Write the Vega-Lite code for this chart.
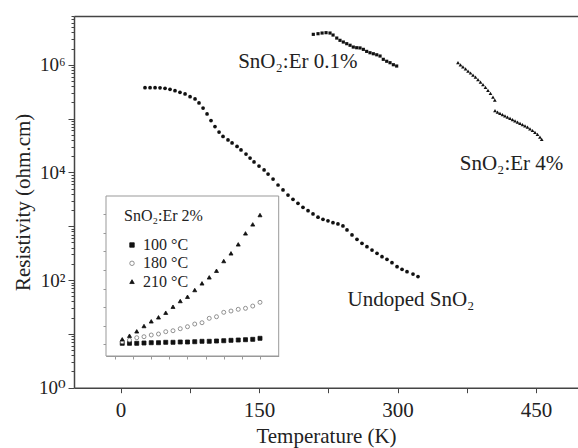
{
 "$schema": "https://vega.github.io/schema/vega-lite/v6.json",
 "width": 504,
 "height": 371.7,
 "autosize": {"type": "none"},
 "padding": {"left": 74, "top": 16, "right": 0, "bottom": 60.3},
 "background": "white",
 "config": {
  "view": {"stroke": null},
  "font": "Liberation Serif, Times New Roman, DejaVu Serif, serif",
  "axis": {"grid": false, "domainColor": "#444", "domainWidth": 1.5, "tickColor": "#444", "tickWidth": 1, "labelFont": "Liberation Serif, Times New Roman, DejaVu Serif, serif", "titleFont": "Liberation Serif, Times New Roman, DejaVu Serif, serif", "labelColor": "#222", "titleColor": "#222", "titleFontWeight": "normal", "labelFontSize": 19, "titleFontSize": 21, "labelOverlap": false, "labelFlush": false},
  "legend": {"titleFont": "Liberation Serif, Times New Roman, DejaVu Serif, serif", "labelFont": "Liberation Serif, Times New Roman, DejaVu Serif, serif", "titleFontWeight": "normal", "titleFontSize": 16, "labelFontSize": 16, "titleColor": "#222", "labelColor": "#222", "symbolSize": 20, "labelOffset": 3, "titlePadding": 13, "rowPadding": 2.3, "padding": 0, "offset": 0, "symbolStrokeWidth": 0.8},
  "text": {"font": "Liberation Serif, Times New Roman, DejaVu Serif, serif"}
 },
 "datasets": {
  "undoped": [
   {"T":26.5,"R":374000},{"T":32.0,"R":374000},{"T":37.4,"R":374000},{"T":42.8,"R":372000},{"T":48.2,"R":365000},{"T":53.6,"R":349000},{"T":59.0,"R":329000},{"T":64.4,"R":308000},{"T":69.9,"R":286000},{"T":75.3,"R":255000},{"T":80.7,"R":231000},{"T":85.0,"R":195000},{"T":89.4,"R":157000},{"T":93.7,"R":122000},{"T":98.0,"R":92000},{"T":102.3,"R":71100},{"T":106.7,"R":56200},{"T":111.0,"R":46500},{"T":116.4,"R":40000},{"T":120.8,"R":35200},{"T":126.2,"R":30300},{"T":130.5,"R":26100},{"T":135.9,"R":21900},{"T":140.3,"R":18500},{"T":144.6,"R":15600},{"T":150.0,"R":13100},{"T":155.5,"R":11100},{"T":159.8,"R":9330},{"T":165.2,"R":7530},{"T":170.6,"R":5830},{"T":176.0,"R":4710},{"T":181.4,"R":3800},{"T":186.8,"R":3160},{"T":192.2,"R":2670},{"T":197.6,"R":2240},{"T":203.1,"R":1940},{"T":208.5,"R":1690},{"T":213.9,"R":1470},{"T":219.3,"R":1340},{"T":224.7,"R":1260},{"T":230.1,"R":1160},{"T":235.5,"R":1100},{"T":240.9,"R":1010},{"T":245.3,"R":851},{"T":250.7,"R":687},{"T":256.1,"R":571},{"T":261.5,"R":482},{"T":266.9,"R":416},{"T":272.4,"R":361},{"T":277.8,"R":314},{"T":283.2,"R":272},{"T":288.6,"R":243},{"T":294.0,"R":210},{"T":299.5,"R":177},{"T":304.9,"R":158},{"T":310.3,"R":143},{"T":316.8,"R":129},{"T":322.2,"R":116}
  ],
  "er01": [
   {"T":208.8,"R":3670000},{"T":213.9,"R":3770000},{"T":218.3,"R":3880000},{"T":222.6,"R":3940000},{"T":226.9,"R":3880000},{"T":230.2,"R":3560000},{"T":234.2,"R":3130000},{"T":237.7,"R":2840000},{"T":241.3,"R":2640000},{"T":245.0,"R":2460000},{"T":248.6,"R":2300000},{"T":252.1,"R":2130000},{"T":255.8,"R":2070000},{"T":259.4,"R":2050000},{"T":263.0,"R":1930000},{"T":266.6,"R":1770000},{"T":270.2,"R":1670000},{"T":273.8,"R":1600000},{"T":277.5,"R":1530000},{"T":281.1,"R":1450000},{"T":284.6,"R":1260000},{"T":288.3,"R":1160000},{"T":291.9,"R":1090000},{"T":295.5,"R":1000000},{"T":299.1,"R":946000}
  ],
  "er4": [
   {"T":365.5,"R":1090000},{"T":368.2,"R":997000},{"T":370.9,"R":908000},{"T":373.7,"R":834000},{"T":376.4,"R":764000},{"T":379.1,"R":702000},{"T":381.8,"R":644000},{"T":384.5,"R":586000},{"T":387.2,"R":527000},{"T":389.9,"R":473000},{"T":392.6,"R":426000},{"T":395.3,"R":378000},{"T":398.0,"R":335000},{"T":400.7,"R":293000},{"T":403.4,"R":251000},{"T":405.4,"R":221000},
   {"T":405.6,"R":141000},{"T":408.3,"R":132000},{"T":411.0,"R":125000},{"T":413.7,"R":118000},{"T":416.4,"R":112000},{"T":419.1,"R":106000},{"T":421.9,"R":101000},{"T":424.6,"R":95700},{"T":427.3,"R":90800},{"T":430.0,"R":85900},{"T":432.7,"R":81700},{"T":435.4,"R":77300},{"T":438.1,"R":73300},{"T":440.8,"R":69000},{"T":443.5,"R":64300},{"T":446.2,"R":60000},{"T":448.9,"R":55300},{"T":451.6,"R":50800},{"T":454.3,"R":45100},{"T":456.2,"R":41100}
  ],
  "labels": [
   {"T":192,"R":1140000,"label":"SnO₂:Er 0.1%"},
   {"T":423.5,"R":14300,"label":"SnO₂:Er 4%"},
   {"T":314.6,"R":42.6,"label":"Undoped SnO₂"}
  ],
  "inset": [
   {"n":1,"u":0.054,"temp":"100 °C"},{"n":2,"u":0.054,"temp":"100 °C"},{"n":3,"u":0.054,"temp":"100 °C"},{"n":4,"u":0.070,"temp":"100 °C"},{"n":5,"u":0.086,"temp":"100 °C"},{"n":6,"u":0.086,"temp":"100 °C"},{"n":7,"u":0.108,"temp":"100 °C"},{"n":8,"u":0.108,"temp":"100 °C"},{"n":9,"u":0.124,"temp":"100 °C"},{"n":10,"u":0.124,"temp":"100 °C"},{"n":11,"u":0.140,"temp":"100 °C"},{"n":12,"u":0.162,"temp":"100 °C"},{"n":13,"u":0.162,"temp":"100 °C"},{"n":14,"u":0.178,"temp":"100 °C"},{"n":15,"u":0.194,"temp":"100 °C"},{"n":16,"u":0.215,"temp":"100 °C"},{"n":17,"u":0.232,"temp":"100 °C"},{"n":18,"u":0.248,"temp":"100 °C"},{"n":19,"u":0.269,"temp":"100 °C"},{"n":20,"u":0.323,"temp":"100 °C"},
   {"n":1,"u":0.14,"temp":"180 °C"},{"n":2,"u":0.232,"temp":"180 °C"},{"n":3,"u":0.355,"temp":"180 °C"},{"n":4,"u":0.409,"temp":"180 °C"},{"n":5,"u":0.501,"temp":"180 °C"},{"n":6,"u":0.555,"temp":"180 °C"},{"n":7,"u":0.679,"temp":"180 °C"},{"n":8,"u":0.732,"temp":"180 °C"},{"n":9,"u":0.840,"temp":"180 °C"},{"n":10,"u":0.948,"temp":"180 °C"},{"n":11,"u":1.093,"temp":"180 °C"},{"n":12,"u":1.163,"temp":"180 °C"},{"n":13,"u":1.400,"temp":"180 °C"},{"n":14,"u":1.486,"temp":"180 °C"},{"n":15,"u":1.723,"temp":"180 °C"},{"n":16,"u":1.793,"temp":"180 °C"},{"n":17,"u":1.885,"temp":"180 °C"},{"n":18,"u":1.939,"temp":"180 °C"},{"n":19,"u":2.062,"temp":"180 °C"},{"n":20,"u":2.262,"temp":"180 °C"},
   {"n":1,"u":0.269,"temp":"210 °C"},{"n":2,"u":0.463,"temp":"210 °C"},{"n":3,"u":0.700,"temp":"210 °C"},{"n":4,"u":0.985,"temp":"210 °C"},{"n":5,"u":1.239,"temp":"210 °C"},{"n":6,"u":1.454,"temp":"210 °C"},{"n":7,"u":1.702,"temp":"210 °C"},{"n":8,"u":2.025,"temp":"210 °C"},{"n":9,"u":2.332,"temp":"210 °C"},{"n":10,"u":2.563,"temp":"210 °C"},{"n":11,"u":2.924,"temp":"210 °C"},{"n":12,"u":3.285,"temp":"210 °C"},{"n":13,"u":3.608,"temp":"210 °C"},{"n":14,"u":3.963,"temp":"210 °C"},{"n":15,"u":4.486,"temp":"210 °C"},{"n":16,"u":4.901,"temp":"210 °C"},{"n":17,"u":5.385,"temp":"210 °C"},{"n":18,"u":5.977,"temp":"210 °C"},{"n":19,"u":6.462,"temp":"210 °C"},{"n":20,"u":6.963,"temp":"210 °C"}
  ]
 },
 "layer": [
  {
   "layer": [
    {
     "data": {"name": "undoped"},
     "mark": {"type": "circle", "size": 14, "color": "#111", "opacity": 1},
     "encoding": {
      "x": {"field": "T", "type": "quantitative", "scale": {"domain": [-50.4, 495.5], "nice": false, "zero": false},
       "axis": {"orient": "bottom", "values": [0, 75, 150, 225, 300, 375, 450], "labelExpr": "datum.value % 150 === 0 ? datum.label : ''", "tickSize": 5, "labelPadding": 7, "labelFontSize": 21, "title": "Temperature (K)", "titlePadding": 5}},
      "y": {"field": "R", "type": "quantitative", "scale": {"type": "log", "domain": [1, 8040000], "nice": false},
       "axis": {"orient": "left",
        "values": [1,2,3,4,5,6,7,8,9,10,20,30,40,50,60,70,80,90,100,200,300,400,500,600,700,800,900,1000,2000,3000,4000,5000,6000,7000,8000,9000,10000,20000,30000,40000,50000,60000,70000,80000,90000,100000,200000,300000,400000,500000,600000,700000,800000,900000,1000000,2000000,3000000,4000000,5000000,6000000,7000000,8000000],
        "labelExpr": "datum.value === 1 ? '10⁰' : datum.value === 100 ? '10²' : datum.value === 10000 ? '10⁴' : datum.value === 1000000 ? '10⁶' : ''",
        "tickSize": {"condition": {"test": "indexof([1,10,100,1000,10000,100000,1000000], datum.value) >= 0", "value": 6}, "value": 3},
        "labelPadding": 3, "labelFontSize": 19,
        "title": "Resistivity (ohm.cm)", "titleX": -45, "titleBaseline": "alphabetic"}}
     }
    },
    {
     "data": {"name": "er01"},
     "mark": {"type": "square", "size": 10, "color": "#111", "opacity": 1},
     "encoding": {
      "x": {"field": "T", "type": "quantitative", "axis": null},
      "y": {"field": "R", "type": "quantitative"}
     }
    },
    {
     "data": {"name": "er4"},
     "mark": {"type": "point", "shape": "triangle-up", "filled": true, "size": 14, "color": "#111", "opacity": 1},
     "encoding": {
      "x": {"field": "T", "type": "quantitative", "axis": null},
      "y": {"field": "R", "type": "quantitative"}
     }
    },
    {
     "data": {"name": "labels"},
     "mark": {"type": "text", "fontSize": 21, "font": "Liberation Serif, Times New Roman, DejaVu Serif, serif", "color": "#222", "align": "center", "baseline": "middle"},
     "encoding": {
      "x": {"field": "T", "type": "quantitative", "axis": {"orient": "top", "ticks": false, "labels": false, "title": null, "domain": true}},
      "y": {"field": "R", "type": "quantitative"},
      "text": {"field": "label"}
     }
    }
   ],
   "resolve": {"axis": {"x": "independent"}}
  },
  {
   "layer": [
    {
     "data": {"values": [{}]},
     "mark": {"type": "rect", "fill": "white", "stroke": "#999", "strokeWidth": 1},
     "encoding": {
      "x": {"datum": -1.241, "type": "quantitative", "scale": {"domain": [-1.241, 22.58], "range": [32, 204.7], "nice": false, "zero": false},
       "axis": {"orient": "bottom", "offset": -31.7, "values": [0, 2.5, 5, 7.5, 10, 12.5, 15, 17.5, 20], "labels": false, "tickSize": 3, "title": null, "domainColor": "#999", "tickColor": "#999", "domainWidth": 1}},
      "x2": {"datum": 22.58},
      "y": {"datum": -0.63, "type": "quantitative", "scale": {"domain": [-0.63, 7.99], "range": [340, 180], "nice": false, "zero": false},
       "axis": {"orient": "left", "offset": -32, "values": [0, 1, 2, 3, 4, 5, 6, 7], "labels": false, "tickSize": 3, "title": null, "domainColor": "#999", "tickColor": "#999", "domainWidth": 1}},
      "y2": {"datum": 7.99}
     }
    },
    {
     "data": {"name": "inset"},
     "mark": {"type": "point", "size": 16, "strokeWidth": 0.8, "opacity": 1},
     "encoding": {
      "x": {"field": "n", "type": "quantitative"},
      "y": {"field": "u", "type": "quantitative"},
      "shape": {"field": "temp", "type": "nominal", "scale": {"domain": ["100 °C", "180 °C", "210 °C"], "range": ["square", "circle", "triangle-up"]},
       "legend": {"title": "SnO₂:Er 2%", "orient": "none", "legendX": 50, "legendY": 192}},
      "fill": {"field": "temp", "type": "nominal", "scale": {"domain": ["100 °C", "180 °C", "210 °C"], "range": ["#111", "white", "#111"]},
       "legend": {"title": "SnO₂:Er 2%", "orient": "none", "legendX": 50, "legendY": 192}},
      "stroke": {"field": "temp", "type": "nominal", "scale": {"domain": ["100 °C", "180 °C", "210 °C"], "range": ["#111", "#777", "#111"]},
       "legend": {"title": "SnO₂:Er 2%", "orient": "none", "legendX": 50, "legendY": 192}}
     }
    }
   ]
  }
 ],
 "resolve": {"scale": {"x": "independent", "y": "independent"}, "axis": {"x": "independent", "y": "independent"}}
}
